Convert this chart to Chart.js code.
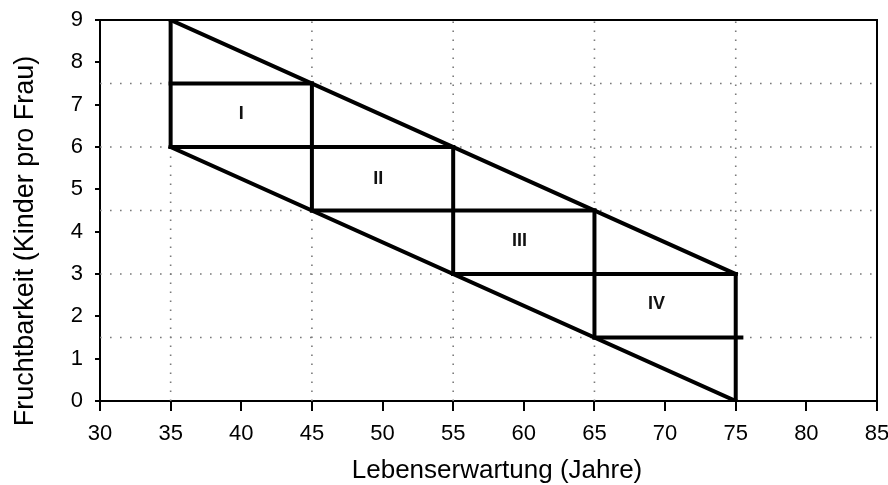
<!DOCTYPE html>
<html>
<head>
<meta charset="utf-8">
<style>
  html, body { margin: 0; padding: 0; background: #ffffff; }
  canvas { display: block; }
</style>
<script src="https://cdn.jsdelivr.net/npm/chart.js@4.4.1/dist/chart.umd.min.js"></script>
</head>
<body>
<canvas id="chart" width="888" height="485"></canvas>
<script>
// Life expectancy (years) vs. fertility (children per woman): four transition zones
const upperEdgeX = [35, 75];
const upperEdgeY = [9, 3];
const lowerEdgeX = [35, 75];
const lowerEdgeY = [6, 0];

// vertical zone walls
const wallX      = [35, 45, 55, 65, 75];
const wallBottom = [6, 4.5, 3, 1.5, 0];
const wallTop    = [9, 7.5, 6, 4.5, 3];

// horizontal zone floors
const floorY     = [7.5, 6, 4.5, 3, 1.5];
const floorFrom  = [35, 35, 45, 55, 65];
const floorTo    = [45, 55, 65, 75, 75.4];

// dotted reference lines
const refLevelsY = [1.5, 3, 4.5, 6, 7.5];
const refLevelsX = [35, 45, 55, 65, 75];

// zone names and where they sit
const zoneNames = ['I', 'II', 'III', 'IV'];
const zoneX     = [40, 49.7, 59.7, 69.4];
const zoneY     = [6.78, 5.25, 3.78, 2.3];

const xTitle = 'Lebenserwartung (Jahre)';
const yTitle = 'Fruchtbarkeit (Kinder pro Frau)';

const X_MIN = 30, X_MAX = 85, X_STEP = 5;
const Y_MIN = 0,  Y_MAX = 9,  Y_STEP = 1;

const FONT = '"Liberation Sans", Arial, Helvetica, sans-serif';

function seg(x1, y1, x2, y2, style) {
  return Object.assign({
    data: [{ x: x1, y: y1 }, { x: x2, y: y2 }],
    showLine: true,
    pointRadius: 0,
    fill: false
  }, style);
}

// lower "order" is painted on top, so heavy outlines cover the dotted guides
const dotted = { borderColor: '#7a7a7a', borderWidth: 1.6, borderDash: [1.6, 8.4], borderCapStyle: 'butt', order: 2 };
const heavy  = { borderColor: '#000000', borderWidth: 4, borderCapStyle: 'square', order: 1 };

const datasets = [];
refLevelsY.forEach(y => datasets.push(seg(X_MIN, y, X_MAX, y, dotted)));
refLevelsX.forEach(x => datasets.push(seg(x, Y_MIN, x, Y_MAX, Object.assign({}, dotted, { borderDash: [1.6, 7.4] }))));
datasets.push(seg(upperEdgeX[0], upperEdgeY[0], upperEdgeX[1], upperEdgeY[1], heavy));
datasets.push(seg(lowerEdgeX[0], lowerEdgeY[0], lowerEdgeX[1], lowerEdgeY[1], heavy));
wallX.forEach((x, i) => datasets.push(seg(x, wallBottom[i], x, wallTop[i], heavy)));
floorY.forEach((y, i) => datasets.push(seg(floorFrom[i], y, floorTo[i], y, heavy)));

// closes the plot frame on top and right, writes the zone names and the axis titles
const framePlugin = {
  id: 'frameAndZones',
  afterDatasetsDraw(chart) {
    const { ctx, chartArea: a, scales } = chart;
    ctx.save();
    ctx.strokeStyle = '#000';
    ctx.lineWidth = 2;
    ctx.beginPath();
    ctx.moveTo(a.left, a.top);
    ctx.lineTo(a.right, a.top);
    ctx.lineTo(a.right, a.bottom);
    ctx.stroke();

    ctx.fillStyle = '#111';
    ctx.font = 'bold 18px ' + FONT;
    ctx.textAlign = 'center';
    ctx.textBaseline = 'middle';
    zoneNames.forEach((n, i) => {
      ctx.fillText(n, scales.x.getPixelForValue(zoneX[i]), scales.y.getPixelForValue(zoneY[i]));
    });

    ctx.fillStyle = '#000';
    ctx.textBaseline = 'alphabetic';
    ctx.font = '26px ' + FONT;
    ctx.fillText(xTitle, a.left + 397, a.bottom + 77);

    ctx.font = '27px ' + FONT;
    ctx.translate(a.left - 67, a.top + 221);
    ctx.rotate(-Math.PI / 2);
    ctx.fillText(yTitle, 0, 0);
    ctx.restore();
  }
};

new Chart(document.getElementById('chart'), {
  type: 'scatter',
  data: { datasets },
  options: {
    responsive: false,
    animation: false,
    layout: { padding: { top: 20, right: 11, bottom: 0, left: 0 } },
    plugins: { legend: { display: false }, tooltip: { enabled: false } },
    scales: {
      x: {
        type: 'linear',
        min: X_MIN, max: X_MAX,
        afterFit: s => { s.height = 84; s.paddingLeft = 0; s.paddingRight = 0; },
        ticks: { stepSize: X_STEP, color: '#000', padding: 10, font: { family: FONT, size: 22 } },
        grid: { drawOnChartArea: false, color: '#000', lineWidth: 2, tickLength: 10 },
        border: { color: '#000', width: 2 }
      },
      y: {
        type: 'linear',
        min: Y_MIN, max: Y_MAX,
        afterFit: s => { s.width = 100; s.paddingTop = 0; s.paddingBottom = 0; },
        ticks: { stepSize: Y_STEP, color: '#000', padding: 12, font: { family: FONT, size: 22 } },
        grid: { drawOnChartArea: false, color: '#000', lineWidth: 2, tickLength: 5 },
        border: { color: '#000', width: 2 }
      }
    }
  },
  plugins: [framePlugin]
});
</script>
</body>
</html>
